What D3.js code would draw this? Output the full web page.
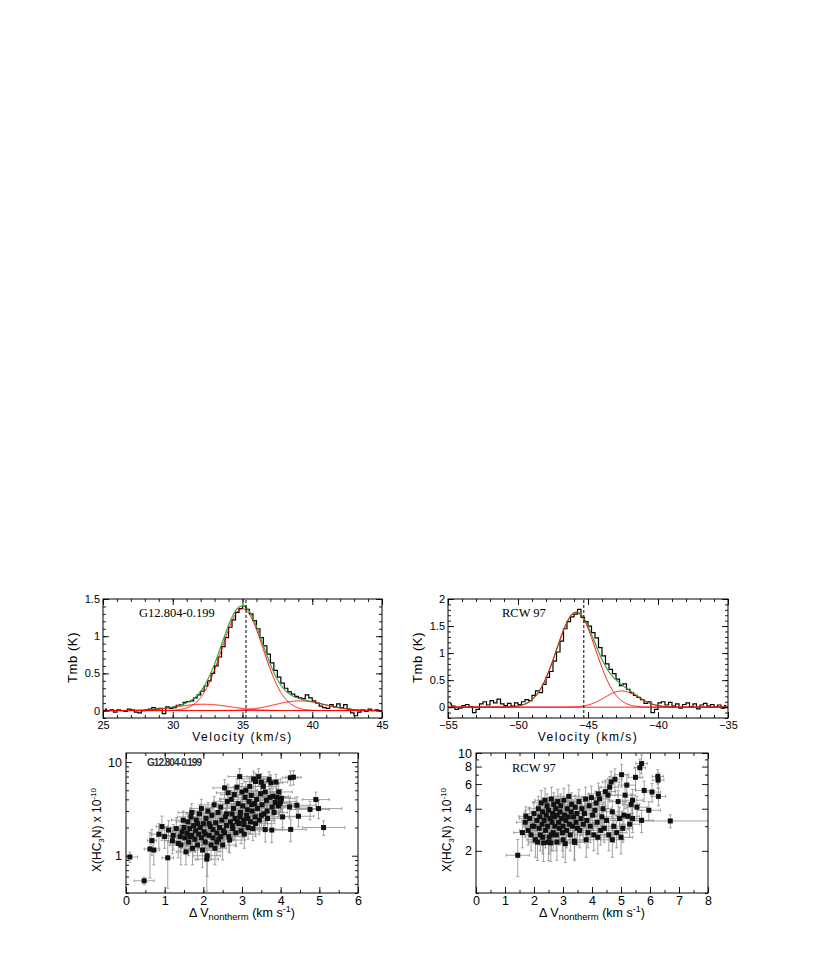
<!DOCTYPE html>
<html><head><meta charset="utf-8">
<script src="https://cdn.jsdelivr.net/npm/d3@7"></script>
<style>body{margin:0;background:#fff}svg{display:block;background:#fff}</style>
</head><body><svg id="c" width="830" height="969"></svg>
<script>
// ---------------- DATA ----------------
// Spectrum 1 (G12.804-0.199): channel centres start + i*step, Tmb (K)
const spec1Start = 25.125, spec1Step = 0.25;
const spec1 = [0.02,0.00,0.01,-0.02,0.01,0.00,-0.01,0.02,0.01,-0.02,
  -0.03,0.00,0.01,0.02,0.04,0.02,0.03,-0.04,0.05,0.03,
  0.04,0.07,0.08,0.11,0.12,0.13,0.17,0.21,0.26,0.33,
  0.40,0.50,0.60,0.72,0.86,0.98,1.12,1.22,1.32,1.37,
  1.40,1.36,1.30,1.21,1.10,0.98,0.87,0.76,0.64,0.54,
  0.45,0.37,0.30,0.25,0.22,0.19,0.17,0.16,0.21,0.17,
  0.13,0.10,0.06,0.04,0.03,0.08,0.05,0.09,0.04,0.08,
  0.02,-0.03,-0.07,-0.02,0.01,-0.01,0.02,0.00,0.01,0.00];
const fit1Amp = [1.37, 0.085, 0.13];
const fit1Mu  = [35.0, 32.2, 39.1];
const fit1Sig = [1.48, 1.9, 1.8];
const vline1 = 35.25;

// Spectrum 2 (RCW 97)
const spec2Start = -54.875, spec2Step = 0.25;
const spec2 = [0.06,0.02,-0.04,-0.02,0.03,0.05,0.01,-0.10,-0.04,0.06,
  0.10,0.04,0.12,0.08,0.15,0.06,0.03,0.07,0.02,0.08,
  0.05,0.10,0.14,0.12,0.22,0.30,0.27,0.42,0.55,0.66,
  0.85,1.02,1.22,1.45,1.58,1.67,1.72,1.81,1.66,1.58,
  1.50,1.38,1.28,1.10,0.95,0.80,0.70,0.62,0.52,0.40,
  0.43,0.33,0.27,0.22,0.18,0.14,0.07,0.10,-0.10,-0.04,
  0.08,0.10,0.04,0.09,0.02,0.06,-0.02,0.05,0.08,0.01,
  0.06,-0.03,0.04,0.07,0.02,0.05,0.00,0.04,-0.02,0.03];
const fit2Amp = [1.75, 0.30];
const fit2Mu  = [-45.85, -42.6];
const fit2Sig = [1.40, 1.2];
const vline2 = -45.3;

// Scatter 1 (G12.804-0.199): [dV, X, xerr, yerr]
const sc1 = [[0.10,0.97,0.20,0.12],[0.47,0.54,0.26,0.05],[0.62,1.18,0.15,0.6],[0.67,1.45,0.12,0.45],[0.72,1.15,0.15,0.35],
[0.85,1.70,0.20,0.5],[0.93,2.05,0.15,0.6],[1.00,1.60,0.20,0.4],[1.08,0.95,0.15,0.5],[1.10,1.88,0.25,0.5],
[1.20,1.45,0.20,0.4],[1.22,1.65,0.30,0.5],[1.30,1.95,0.25,0.6],[1.35,1.35,0.20,0.4],[1.42,1.30,0.30,0.5],
[1.45,1.80,0.30,0.5],[1.50,2.00,0.35,0.5],[1.52,1.55,0.30,0.5],[1.55,1.10,0.25,0.3],[1.58,1.75,0.30,0.5],
[1.60,2.30,0.30,0.6],[1.62,1.40,0.35,0.4],[1.65,1.95,0.30,0.5],[1.68,2.60,0.35,0.6],[1.70,1.65,0.30,0.5],
[1.72,1.20,0.30,0.4],[1.75,2.10,0.35,0.5],[1.78,1.50,0.30,0.4],[1.80,1.85,0.40,0.5],[1.82,2.40,0.30,0.6],
[1.85,1.30,0.30,0.4],[1.88,1.70,0.40,0.5],[1.90,2.80,0.35,0.7],[1.92,2.00,0.30,0.5],[1.95,1.55,0.30,0.4],
[1.98,1.15,0.35,0.4],[2.00,2.20,0.40,0.6],[2.02,1.80,0.30,0.5],[2.05,1.40,0.35,0.4],[2.07,2.50,0.30,0.6],
[2.09,0.92,0.30,0.5],[2.10,1.00,0.35,0.4],[2.12,3.00,0.35,0.7],[2.15,1.65,0.40,0.5],[2.18,2.05,0.30,0.5],
[2.20,1.30,0.35,0.4],[2.22,2.70,0.40,0.6],[2.25,1.90,0.30,0.5],[2.28,3.50,0.35,0.8],[2.30,1.20,0.30,0.4],
[2.32,2.25,0.40,0.6],[2.35,1.75,0.35,0.5],[2.38,2.90,0.30,0.7],[2.40,1.50,0.40,0.4],[2.42,2.00,0.35,0.5],
[2.45,3.30,0.40,0.8],[2.48,2.40,0.30,0.6],[2.50,1.30,0.35,0.4],[2.52,1.85,0.40,0.5],[2.55,5.30,0.30,1.2],
[2.57,2.60,0.35,0.6],[2.60,2.10,0.40,0.5],[2.62,3.80,0.35,0.9],[2.64,4.70,0.30,1.1],[2.66,1.60,0.35,0.5],
[2.68,1.47,0.40,0.4],[2.70,2.30,0.35,0.6],[2.72,4.00,0.30,1.0],[2.74,2.80,0.40,0.7],[2.76,1.95,0.35,0.5],
[2.78,3.20,0.30,0.8],[2.80,4.50,0.35,1.0],[2.82,2.50,0.40,0.6],[2.84,1.75,0.35,0.5],[2.87,5.40,0.30,1.2],
[2.90,3.60,0.40,0.9],[2.92,2.20,0.35,0.6],[2.94,7.00,0.30,1.5],[2.96,2.90,0.40,0.7],[2.98,1.85,0.35,0.5],
[3.00,4.80,0.30,1.1],[3.02,3.40,0.40,0.8],[3.04,2.40,0.35,0.6],[3.06,1.70,0.40,0.5],[3.08,4.20,0.35,1.0],
[3.10,5.00,0.30,1.2],[3.12,2.70,0.40,0.7],[3.14,3.10,0.35,0.8],[3.16,2.00,0.40,0.5],[3.18,3.80,0.30,0.9],
[3.20,5.50,0.35,1.3],[3.22,2.30,0.40,0.6],[3.24,4.40,0.35,1.0],[3.26,3.00,0.40,0.7],[3.28,1.95,0.30,0.5],
[3.30,6.60,0.30,1.4],[3.32,3.60,0.40,0.9],[3.34,2.60,0.35,0.6],[3.35,6.20,0.30,1.4],[3.38,4.00,0.40,1.0],
[3.40,3.20,0.35,0.8],[3.43,7.00,0.30,1.5],[3.45,2.40,0.40,0.6],[3.48,4.60,0.35,1.1],[3.50,6.10,0.30,1.4],
[3.52,3.50,0.40,0.9],[3.55,5.50,0.35,1.3],[3.57,2.80,0.40,0.7],[3.60,4.80,0.35,1.1],[3.60,1.90,0.45,0.5],
[3.63,3.90,0.40,0.9],[3.66,2.50,0.35,0.6],[3.70,6.50,0.30,1.4],[3.72,4.20,0.40,1.0],[3.75,6.00,0.30,1.3],
[3.77,1.88,0.50,0.5],[3.78,3.30,0.35,0.8],[3.80,4.30,0.40,1.0],[3.83,2.90,0.35,0.7],[3.86,3.70,0.40,0.9],
[3.88,6.10,0.30,1.3],[3.90,4.20,0.35,1.0],[3.94,3.40,0.40,0.8],[3.98,3.60,0.45,0.9],[4.02,4.10,0.35,1.0],
[4.05,2.60,0.40,0.6],[4.23,3.32,0.50,0.8],[4.26,1.91,0.40,0.5],[4.25,6.80,0.20,1.2],[4.33,6.90,0.20,1.2],
[4.42,3.46,0.50,0.8],[4.46,2.64,0.40,0.6],[4.76,3.12,0.50,0.7],[4.91,3.98,0.35,0.8],[4.98,3.19,0.60,0.7],
[5.11,2.00,0.55,0.35],[1.40,1.60,0.25,0.5],[1.48,2.40,0.30,0.6],[1.70,2.90,0.35,0.7],[1.95,3.20,0.30,0.8],
[2.15,2.20,0.35,0.6],[2.35,1.40,0.30,0.4],[2.45,1.60,0.35,0.5],[2.55,1.75,0.40,0.5],[2.75,2.10,0.40,0.6],
[2.88,2.30,0.35,0.6],[3.05,2.15,0.40,0.6],[3.15,2.50,0.35,0.6],[3.35,2.20,0.40,0.6],[3.50,2.70,0.35,0.7],
[3.65,3.00,0.40,0.8],[3.95,4.80,0.35,1.1],[4.00,3.80,0.40,0.9],[2.25,1.55,0.35,0.4],[2.05,1.70,0.35,0.5],
[1.85,2.20,0.35,0.6],[1.65,1.60,0.30,0.5],[2.60,2.80,0.40,0.7],[2.95,2.60,0.35,0.7],[3.25,3.50,0.40,0.9]];

// Scatter 2 (RCW 97): [dV, X, xerr, yerr]
const sc2 = [[1.44,1.86,0.40,0.55],[1.70,3.20,0.30,0.7],[1.72,3.53,0.25,0.6],[1.80,2.80,0.30,0.6],[1.85,3.40,0.35,0.7],
[1.90,2.60,0.30,0.6],[1.95,3.00,0.30,0.7],[2.00,3.70,0.35,0.8],[2.05,2.40,0.30,0.6],[2.10,3.30,0.40,0.8],
[2.12,2.31,0.30,0.6],[2.15,4.00,0.35,0.9],[2.18,2.90,0.30,0.7],[2.20,3.50,0.40,0.8],[2.22,2.60,0.35,0.6],
[2.25,4.40,0.30,1.0],[2.28,3.10,0.35,0.7],[2.30,3.80,0.40,0.9],[2.33,2.28,0.35,0.6],[2.35,3.30,0.30,0.8],
[2.38,4.60,0.35,1.0],[2.40,2.80,0.40,0.7],[2.42,3.60,0.30,0.8],[2.45,4.20,0.35,0.9],[2.47,3.00,0.40,0.7],
[2.50,3.90,0.30,0.9],[2.52,2.50,0.35,0.6],[2.55,3.40,0.40,0.8],[2.58,2.28,0.35,0.6],[2.60,4.70,0.30,1.0],
[2.62,3.20,0.35,0.8],[2.64,3.70,0.40,0.8],[2.66,2.70,0.35,0.7],[2.68,4.30,0.30,0.9],[2.70,3.50,0.40,0.8],
[2.72,3.00,0.35,0.7],[2.75,4.00,0.30,0.9],[2.77,2.60,0.40,0.6],[2.79,2.31,0.35,0.6],[2.80,3.60,0.30,0.8],
[2.82,4.50,0.35,1.0],[2.85,3.20,0.40,0.8],[2.88,2.90,0.35,0.7],[2.90,3.80,0.30,0.9],[2.92,4.20,0.35,0.9],
[2.95,3.40,0.40,0.8],[2.98,2.70,0.35,0.7],[3.00,3.00,0.30,0.7],[3.03,4.60,0.35,1.0],[3.05,3.60,0.40,0.8],
[3.08,2.25,0.35,0.6],[3.10,3.30,0.30,0.8],[3.12,2.80,0.40,0.7],[3.15,4.00,0.35,0.9],[3.18,3.50,0.30,0.8],
[3.20,4.90,0.35,1.0],[3.22,3.10,0.40,0.7],[3.25,2.60,0.35,0.6],[3.28,3.80,0.30,0.9],[3.30,4.30,0.35,0.9],
[3.33,3.00,0.40,0.7],[3.36,3.50,0.35,0.8],[3.39,2.35,0.30,0.6],[3.42,4.10,0.35,0.9],[3.45,3.20,0.40,0.8],
[3.48,3.70,0.35,0.8],[3.50,2.90,0.30,0.7],[3.55,4.50,0.35,1.0],[3.58,2.80,0.40,0.7],[3.62,3.40,0.35,0.8],
[3.65,4.00,0.30,0.9],[3.70,3.10,0.40,0.7],[3.74,3.70,0.35,0.8],[3.78,4.70,0.30,1.0],[3.82,3.30,0.40,0.8],
[3.86,2.70,0.35,0.6],[3.90,4.20,0.30,0.9],[3.94,3.00,0.40,0.7],[3.98,4.80,0.35,1.0],[4.02,3.60,0.30,0.8],
[4.06,2.60,0.40,0.6],[4.10,3.90,0.35,0.9],[4.14,4.40,0.30,0.9],[4.18,3.20,0.40,0.7],[4.22,5.10,0.35,1.0],
[4.26,4.70,0.30,1.0],[4.30,2.80,0.40,0.6],[4.34,3.50,0.35,0.8],[4.38,4.00,0.30,0.9],[4.42,2.90,0.40,0.6],
[4.46,5.30,0.35,1.1],[4.50,3.30,0.30,0.7],[4.55,5.00,0.35,1.0],[4.58,2.60,0.40,0.6],[4.61,5.70,0.30,1.1],
[4.66,6.20,0.30,1.2],[4.70,3.80,0.35,0.8],[4.75,3.00,0.40,0.7],[4.79,6.50,0.25,1.2],[4.85,2.70,0.35,0.6],
[4.90,4.50,0.30,0.9],[4.95,3.40,0.40,0.7],[5.02,7.00,0.25,1.3],[5.06,2.90,0.35,0.6],[5.10,3.60,0.30,0.8],
[5.14,5.00,0.35,1.0],[5.20,5.90,0.30,1.1],[5.24,3.53,0.40,0.7],[5.30,3.10,0.35,0.6],[5.35,4.30,0.30,0.8],
[5.40,4.60,0.35,0.9],[5.50,6.70,0.25,1.2],[5.55,4.10,0.35,0.8],[5.65,7.85,0.20,1.2],[5.71,8.40,0.20,1.3],
[5.71,3.30,0.40,0.6],[5.80,5.40,0.30,0.9],[5.96,3.90,0.40,0.6],[6.07,5.26,0.30,0.8],[6.27,6.80,0.20,0.8],
[6.28,6.40,0.20,0.8],[6.29,4.90,0.25,0.7],[6.70,3.27,1.30,0.35],[2.00,3.00,0.30,0.7],[2.30,2.50,0.35,0.6],
[2.50,2.30,0.35,0.6],[3.40,2.30,0.35,0.6],[3.80,2.40,0.40,0.6],[4.20,2.50,0.40,0.6],[4.70,2.40,0.40,0.6],
[5.00,2.50,0.40,0.6],[5.40,3.40,0.35,0.7],[2.60,2.60,0.35,0.6],[3.00,2.40,0.40,0.6],[1.60,2.70,0.30,0.6]];

// Tick labels
const p1XTicks = [25,30,35,40,45], p1YTicks = [0,0.5,1,1.5];
const p2XTicks = [-55,-50,-45,-40,-35], p2YTicks = [0,0.5,1,1.5,2];
const p3XTicks = [0,1,2,3,4,5,6], p3YTicks = [1,10];
const p4XTicks = [0,1,2,3,4,5,6,7,8], p4YTicks = [2,4,6,8,10];

// ---------------- DRAW ----------------
const svg = d3.select('#c');
const SANS = '"Liberation Sans", Arial, Helvetica, sans-serif';
const SERIF = '"Liberation Serif", "Times New Roman", serif';
let clipN = 0;

function fmtNum(d){ return d < 0 ? '\u2212' + (-d) : String(d); }

function axes(x, y, o){
  const [X0, X1] = x.range(), [Y0, Y1] = y.range();
  const g = svg.append('g');
  const mk = (axis, tr, vals, size, fmt, pad) => {
    const a = g.append('g').attr('transform', tr)
      .call(axis.tickValues(vals).tickSize(size).tickSizeOuter(0).tickPadding(pad).tickFormat(fmt));
    a.select('.domain').remove();
    a.selectAll('line').attr('stroke', '#000').attr('stroke-width', 0.9);
    a.selectAll('text').attr('font-size', o.fs).attr('font-family', SANS).attr('fill', '#000');
    return a;
  };
  const none = () => '';
  mk(d3.axisBottom(x), `translate(0,${Y0})`, o.xMaj, -6, fmtNum, o.xPad);
  mk(d3.axisBottom(x), `translate(0,${Y0})`, o.xMin, -3, none, 0);
  mk(d3.axisTop(x), `translate(0,${Y1})`, o.xMaj, -6, none, 0);
  mk(d3.axisTop(x), `translate(0,${Y1})`, o.xMin, -3, none, 0);
  mk(d3.axisLeft(y), `translate(${X0},0)`, o.yMaj, -6, fmtNum, o.yPad);
  mk(d3.axisLeft(y), `translate(${X0},0)`, o.yMin, -3, none, 0);
  mk(d3.axisRight(y), `translate(${X1},0)`, o.yMaj, -6, none, 0);
  mk(d3.axisRight(y), `translate(${X1},0)`, o.yMin, -3, none, 0);
  g.append('rect').attr('x', X0).attr('y', Y1).attr('width', X1 - X0).attr('height', Y0 - Y1)
    .attr('fill', 'none').attr('stroke', '#000').attr('stroke-width', 1);
}

function clip(x, y){
  const id = 'clip' + (clipN++);
  const [X0, X1] = x.range(), [Y0, Y1] = y.range();
  svg.append('clipPath').attr('id', id).append('rect')
    .attr('x', X0).attr('y', Y1).attr('width', X1 - X0).attr('height', Y0 - Y1);
  return svg.append('g').attr('clip-path', `url(#${id})`);
}

function gauss(a, m, s, v){ return a * Math.exp(-((v - m) ** 2) / (2 * s * s)); }

function spectrum(cfg){
  const x = d3.scaleLinear(cfg.xd, [cfg.l, cfg.r]);
  const y = d3.scaleLinear(cfg.yd, [cfg.b, cfg.t]);
  const g = clip(x, y);
  const pts = cfg.data.map((v, i) => [cfg.start + i * cfg.step, v]);
  const line = d3.line().x(d => x(d[0])).y(d => y(d[1]));
  g.append('path').datum(pts).attr('d', line.curve(d3.curveStep)).attr('fill', 'none')
    .attr('stroke', '#000').attr('stroke-width', 1.2);
  const vs = d3.range(cfg.xd[0], cfg.xd[1] + 0.001, 0.05);
  const smooth = d3.line().x(d => x(d[0])).y(d => y(d[1]));
  const sum = vs.map(v => [v, d3.sum(cfg.amp, (a, k) => gauss(a, cfg.mu[k], cfg.sig[k], v))]);
  g.append('path').datum(sum).attr('d', smooth).attr('fill', 'none').attr('stroke', '#3aa63a').attr('stroke-width', 1.2);
  cfg.amp.forEach((a, k) => {
    const c = vs.map(v => [v, gauss(a, cfg.mu[k], cfg.sig[k], v)]);
    g.append('path').datum(c).attr('d', smooth).attr('fill', 'none').attr('stroke', '#f00').attr('stroke-width', 0.9);
  });
  g.append('line').attr('x1', x(cfg.xd[0])).attr('x2', x(cfg.xd[1])).attr('y1', y(0)).attr('y2', y(0))
    .attr('stroke', '#f00').attr('stroke-width', 0.9);
  g.append('line').attr('x1', x(cfg.vline)).attr('x2', x(cfg.vline)).attr('y1', cfg.b).attr('y2', cfg.t)
    .attr('stroke', '#000').attr('stroke-width', 1).attr('stroke-dasharray', '3,2');
  axes(x, y, {xMaj: cfg.xt, xMin: d3.range(cfg.xd[0], cfg.xd[1] + 0.01, 1), yMaj: cfg.yt,
    yMin: d3.range(cfg.yd[0], cfg.yd[1] + 0.001, 0.1).map(v => Math.round(v * 10) / 10), fs: 11, xPad: 3, yPad: 3});
  svg.append('text').attr('x', cfg.l + cfg.lx).attr('y', 617).attr('font-family', SERIF).attr('font-size', 12.5)
    .text(cfg.name);
  svg.append('text').attr('x', (cfg.l + cfg.r) / 2).attr('y', 741).attr('text-anchor', 'middle')
    .attr('font-family', SANS).attr('font-size', 12).attr('letter-spacing', 1.5).text('Velocity (km/s)');
  svg.append('text').attr('transform', `translate(${cfg.l - 26},${(cfg.t + cfg.b) / 2 - 1}) rotate(-90)`)
    .attr('text-anchor', 'middle').attr('font-family', SANS).attr('font-size', 13).attr('letter-spacing', 0.6)
    .text('Tmb (K)');
}

spectrum({l:103, r:382, t:599, b:718, xd:[25,45], yd:[-0.1,1.5], data:spec1, start:spec1Start, step:spec1Step,
  amp:fit1Amp, mu:fit1Mu, sig:fit1Sig, vline:vline1, xt:p1XTicks, yt:p1YTicks, name:'G12.804-0.199', lx:36});
spectrum({l:448, r:728, t:599, b:718, xd:[-55,-35], yd:[-0.2,2], data:spec2, start:spec2Start, step:spec2Step,
  amp:fit2Amp, mu:fit2Mu, sig:fit2Sig, vline:vline2, xt:p2XTicks, yt:p2YTicks, name:'RCW 97', lx:54});

function scatter(cfg){
  const x = d3.scaleLinear(cfg.xd, [cfg.l, cfg.r]);
  const y = d3.scaleLog(cfg.yd, [cfg.b, cfg.t]);
  const g = clip(x, y);
  const eb = g.append('g').attr('stroke', '#8c8c8c').attr('stroke-width', 0.8);
  cfg.data.forEach(d => {
    const [vx, vy, ex, ey] = d;
    const px = x(vx), py = y(vy);
    const x0 = x(vx - ex), x1 = x(vx + ex);
    const y0 = y(Math.max(vy - ey, 0.05)), y1 = y(vy + ey);
    eb.append('line').attr('x1', x0).attr('x2', x1).attr('y1', py).attr('y2', py);
    eb.append('line').attr('x1', x0).attr('x2', x0).attr('y1', py - 1.5).attr('y2', py + 1.5);
    eb.append('line').attr('x1', x1).attr('x2', x1).attr('y1', py - 1.5).attr('y2', py + 1.5);
    eb.append('line').attr('x1', px).attr('x2', px).attr('y1', y0).attr('y2', y1);
    eb.append('line').attr('x1', px - 1.5).attr('x2', px + 1.5).attr('y1', y0).attr('y2', y0);
    eb.append('line').attr('x1', px - 1.5).attr('x2', px + 1.5).attr('y1', y1).attr('y2', y1);
  });
  g.append('g').selectAll('rect').data(cfg.data).join('rect')
    .attr('x', d => x(d[0]) - 2.5).attr('y', d => y(d[1]) - 2.5).attr('width', 5).attr('height', 5).attr('fill', '#111');
  const yMin = [];
  [0.1, 1, 10].forEach(dec => { for (let k = 2; k <= 9; k++) { const v = dec * k; if (v >= cfg.yd[0] && v <= cfg.yd[1] && !cfg.yt.includes(v)) yMin.push(v); } });
  if (cfg.yd[0] <= 1 && !cfg.yt.includes(1)) yMin.push(1);
  axes(x, y, {xMaj: cfg.xt, xMin: d3.range(cfg.xd[0], cfg.xd[1] + 0.01, 0.5), yMaj: cfg.yt, yMin: yMin,
    fs: 12.5, xPad: 3, yPad: 4});
  // y label
  const yl = svg.append('text').attr('transform', `translate(${cfg.l - cfg.ylx},830) rotate(-90)`)
    .attr('text-anchor', 'middle').attr('font-family', SANS).attr('font-size', 12);
  yl.append('tspan').text('X(HC');
  yl.append('tspan').attr('font-size', 8).attr('dy', 3).text('3');
  yl.append('tspan').attr('dy', -3).text('N) x 10');
  yl.append('tspan').attr('font-size', 8).attr('dy', -5).text('-10');
  // x label
  const xl = svg.append('text').attr('x', (cfg.l + cfg.r) / 2).attr('y', 917).attr('text-anchor', 'middle')
    .attr('font-family', SANS).attr('font-size', 12.5);
  xl.append('tspan').text('\u0394 V');
  xl.append('tspan').attr('font-size', 9.5).attr('dy', 3).text('nontherm');
  xl.append('tspan').attr('dy', -3).text(' (km s');
  xl.append('tspan').attr('font-size', 9).attr('dy', -5).text('-1');
  xl.append('tspan').attr('dy', 5).text(')');
}

scatter({l:126, r:358, t:753, b:893, xd:[0,6], yd:[0.4,12.5], data:sc1, xt:p3XTicks, yt:p3YTicks, ylx:25});
scatter({l:476, r:708, t:753, b:893, xd:[0,8], yd:[1,10], data:sc2, xt:p4XTicks, yt:p4YTicks, ylx:25});

svg.append('text').attr('x', 147).attr('y', 766).attr('font-family', SANS).attr('font-weight', 'bold')
  .attr('font-size', 10).attr('fill', '#333').attr('textLength', 55).text('G12.804-0.199');
svg.append('text').attr('x', 512).attr('y', 772).attr('font-family', SERIF).attr('font-size', 12.5).text('RCW 97');
</script></body></html>
